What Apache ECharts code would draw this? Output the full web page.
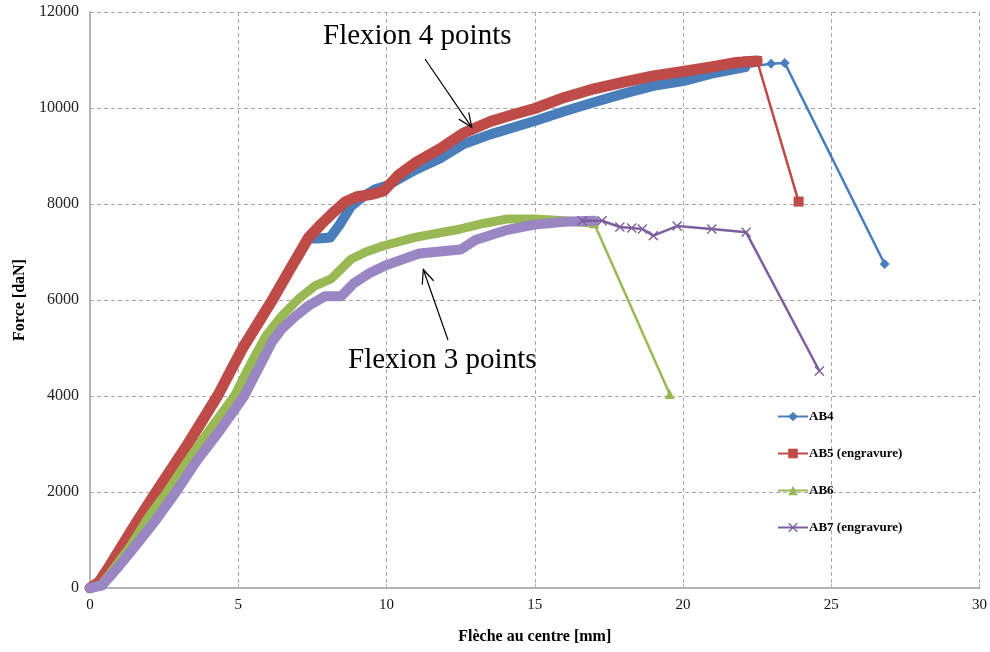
<!DOCTYPE html>
<html><head><meta charset="utf-8">
<script src="https://cdn.jsdelivr.net/npm/echarts@6/dist/echarts.min.js"></script>
<style>html,body{margin:0;padding:0;background:#fff}#c{width:990px;height:652px}</style>
</head><body><div id="c"></div>
<script>
// ---- data (Flèche [mm], Force [daN]) ----
const seriesNames = ['AB4', 'AB5 (engravure)', 'AB6', 'AB7 (engravure)'];
const xTicks = [0, 5, 10, 15, 20, 25, 30];
const yTicks = [0, 2000, 4000, 6000, 8000, 10000, 12000];

// dense measured part (drawn as a thick band of markers in the original)
const ab4Band = [[0,0],[0.3,100],[0.6,400],[1.0,800],[1.6,1400],[2.23,2000],[3.3,3000],[4.3,4000],[5.15,5000],[6.15,6000],[6.8,6700],[7.37,7280],[7.7,7280],[8.1,7300],[8.4,7550],[8.8,7950],[9.2,8150],[9.6,8300],[10.0,8380],[10.5,8550],[11.0,8720],[11.8,8950],[12.6,9250],[13.5,9450],[14.3,9600],[15,9730],[16,9930],[17,10120],[18,10300],[19,10460],[20,10560],[21,10720],[22.1,10850]];
const ab4Tail = [[20.5,10640],[21.1,10740],[21.6,10800],[22.1,10850],[22.97,10920],[23.43,10940],[26.8,6750]];

const ab5Band = [[0,0],[0.3,120],[0.6,400],[1.0,800],[1.6,1400],[2.23,2000],[3.3,3000],[4.3,4000],[5.15,5000],[6.15,6000],[6.8,6700],[7.37,7300],[7.8,7580],[8.2,7820],[8.6,8040],[9.0,8150],[9.5,8200],[9.9,8270],[10.4,8600],[11.0,8870],[11.8,9150],[12.6,9480],[13.5,9720],[14.3,9870],[15,9990],[16,10220],[17,10400],[18,10540],[19,10670],[20,10760],[21,10860],[21.8,10950],[22.5,10980]];
const ab5Tail = [[21.9,10955],[22.2,10970],[22.5,10980],[23.9,8050]];

const ab6Band = [[0,0],[0.4,80],[0.8,400],[1.37,875],[2.0,1500],[2.6,2000],[3.3,2650],[4.1,3350],[4.87,4000],[5.4,4650],[5.93,5250],[6.47,5670],[7.03,6020],[7.6,6300],[8.13,6440],[8.8,6850],[9.3,7000],[9.9,7130],[11.0,7310],[12.5,7480],[13.3,7600],[14.1,7690],[15,7690],[16,7650],[17.0,7600]];
const ab6Tail = [[17.0,7600],[19.55,4040]];

const ab7Band = [[0,0],[0.4,50],[0.9,400],[1.53,875],[2.2,1400],[2.9,2000],[3.6,2650],[4.4,3300],[5.2,4000],[5.7,4600],[6.13,5120],[6.47,5400],[6.9,5650],[7.37,5880],[7.93,6080],[8.47,6080],[8.9,6350],[9.4,6550],[9.93,6710],[11.1,6970],[12.5,7050],[13.0,7250],[14,7450],[15,7570],[16,7630],[17,7650]];
const ab7Tail = [[16.6,7650],[17.27,7650],[17.87,7520],[18.27,7500],[18.63,7480],[19.0,7340],[19.8,7540],[20.97,7480],[22.13,7410],[24.6,4520]];

// ---- styling ----
const colors = ['#4a7ebb', '#be4b48', '#98b954', '#7d5fa0'];
const bandColors = ['#4a7ebb', '#be4b48', '#98b954', '#9a86c2'];
const bandWidths = [10, 11, 9, 10];
const symbols = ['diamond', 'rect', 'triangle',
  'path://M0,1 L1,0 L5,4 L9,0 L10,1 L6,5 L10,9 L9,10 L5,6 L1,10 L0,9 L4,5 Z'];
const symbolSizes = [10, 10, 10, 10];
const bands = [ab4Band, ab5Band, ab6Band, ab7Band];
const tails = [ab4Tail, ab5Tail, ab6Tail, ab7Tail];

const serif = 'Liberation Serif, Times New Roman, serif';

const series = [];
for (let i = 0; i < 4; i++) {
  series.push({
    name: seriesNames[i] + ' band', type: 'line', data: bands[i],
    showSymbol: false, symbol: 'none', silent: true,
    lineStyle: { color: bandColors[i], width: bandWidths[i], join: 'round', cap: 'round' },
    itemStyle: { color: bandColors[i] }, z: 2 + i * 2
  });
  series.push({
    name: seriesNames[i], type: 'line', data: tails[i],
    symbol: symbols[i], symbolSize: symbolSizes[i], showSymbol: true,
    lineStyle: { color: colors[i], width: 2.5 },
    itemStyle: { color: colors[i] }, z: 3 + i * 2
  });
}

// annotation arrows (pixel positions of the text callouts)
function arrow(x1, y1, x2, y2) {
  const dx = x2 - x1, dy = y2 - y1, L = Math.hypot(dx, dy);
  const ux = dx / L, uy = dy / L, px = -uy, py = ux;
  const bx = x2 - 14 * ux, by = y2 - 14 * uy;
  return [
    { type: 'line', shape: { x1, y1, x2, y2 }, style: { stroke: '#000', lineWidth: 1.2 }, z: 100 },
    { type: 'polyline', shape: { points: [[bx + 6 * px, by + 6 * py], [x2, y2], [bx - 6 * px, by - 6 * py]] },
      style: { stroke: '#000', lineWidth: 1.2, fill: null }, z: 100 }
  ];
}

const chart = echarts.init(document.getElementById('c'), null, { renderer: 'canvas' });
chart.setOption({
  backgroundColor: '#fff',
  animation: false,
  grid: { left: 90, right: 6, top: 12, bottom: 64, containLabel: false },
  xAxis: {
    type: 'value', min: xTicks[0], max: xTicks[xTicks.length - 1], interval: 5,
    name: 'Flèche au centre [mm]', nameLocation: 'middle', nameGap: 41,
    nameTextStyle: { fontFamily: serif, fontWeight: 'bold', fontSize: 16, color: '#000' },
    axisLine: { show: true, lineStyle: { color: '#b3b3b3', width: 2 } },
    axisTick: { show: true, inside: true, length: 4, lineStyle: { color: '#b3b3b3' } },
    axisLabel: { fontFamily: serif, fontSize: 15, color: '#111', margin: 10, formatter: v => String(v) },
    splitLine: { show: true, lineStyle: { color: '#a6a6a6', type: [4, 3], width: 1 } }
  },
  yAxis: {
    type: 'value', min: yTicks[0], max: yTicks[yTicks.length - 1], interval: 2000,
    name: 'Force [daN]', nameLocation: 'middle', nameGap: 62, nameRotate: 90,
    nameTextStyle: { fontFamily: serif, fontWeight: 'bold', fontSize: 16, color: '#000' },
    axisLine: { show: true, lineStyle: { color: '#b3b3b3', width: 2 } },
    axisTick: { show: false },
    axisLabel: { fontFamily: serif, fontSize: 16, color: '#222', margin: 11, formatter: v => String(v) },
    splitLine: { show: true, lineStyle: { color: '#a6a6a6', type: [4, 3], width: 1 } }
  },
  legend: {
    data: seriesNames, orient: 'vertical', left: 772, top: 405,
    itemWidth: 30, itemHeight: 12, itemGap: 24,
    textStyle: { fontFamily: serif, fontWeight: 'bold', fontSize: 13, color: '#000', padding: [0, 0, 0, -4] }
  },
  graphic: [
    { type: 'text', left: 323, top: 22, z: 100,
      style: { text: 'Flexion 4 points', font: '29px ' + serif, fill: '#000' } },
    { type: 'text', left: 348, top: 346, z: 100,
      style: { text: 'Flexion 3 points', font: '29px ' + serif, fill: '#000' } },
    ...arrow(425, 59, 471.7, 127.3),
    ...arrow(448, 340, 423.3, 269.5)
  ],
  series: series
});
</script>
</body></html>
